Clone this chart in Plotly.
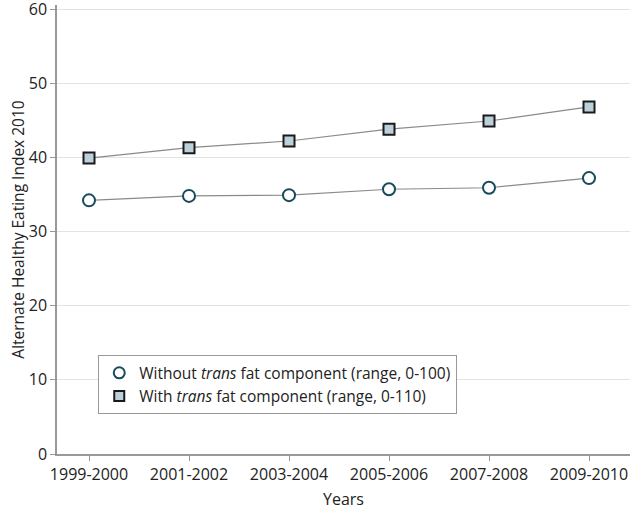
import plotly.graph_objects as go

years = ["1999-2000", "2001-2002", "2003-2004", "2005-2006", "2007-2008", "2009-2010"]
without_trans = [34.2, 34.8, 34.9, 35.7, 35.9, 37.2]
with_trans = [39.9, 41.3, 42.2, 43.8, 44.9, 46.8]
y_ticks = [0, 10, 20, 30, 40, 50, 60]

font = "Open Sans"
fig = go.Figure()
# lines
fig.add_trace(go.Scatter(x=years, y=with_trans, mode="lines+markers", showlegend=False,
                         line=dict(color="#8a8a8a", width=1.2),
                         marker=dict(symbol="square", size=11, color="#bcd0dc",
                                     line=dict(color="#1a1a1a", width=2))))
fig.add_trace(go.Scatter(x=years, y=without_trans, mode="lines+markers", showlegend=False,
                         line=dict(color="#8a8a8a", width=1.2),
                         marker=dict(symbol="circle", size=12, color="white",
                                     line=dict(color="#174a5a", width=2))))
# legend entries
fig.add_trace(go.Scatter(x=[None], y=[None], mode="markers",
                         name="Without <i>trans</i> fat component (range, 0-100)",
                         marker=dict(symbol="circle", size=11, color="white",
                                     line=dict(color="#174a5a", width=2))))
fig.add_trace(go.Scatter(x=[None], y=[None], mode="markers",
                         name="With <i>trans</i> fat component (range, 0-110)",
                         marker=dict(symbol="square", size=10, color="#bcd0dc",
                                     line=dict(color="#1a1a1a", width=2))))

fig.update_layout(
    width=630, height=512,
    margin=dict(l=57, r=0, t=5, b=58),
    paper_bgcolor="white", plot_bgcolor="white",
    font=dict(family=font, size=15, color="#222"),
    legend=dict(x=0.072, y=0.22, xanchor="left", yanchor="top",
                bordercolor="#999", borderwidth=1, bgcolor="white",
                font=dict(size=15.5, color="#222"), tracegroupgap=0,
                itemwidth=30),
    xaxis=dict(type="category", range=[-0.32, 5.41], automargin=False,
               showline=True, linecolor="#999", linewidth=1.5,
               ticks="outside", ticklen=5, tickcolor="#999",
               showgrid=False, title=dict(text="Years", standoff=10, font=dict(size=16)),
               tickfont=dict(size=16)),
    yaxis=dict(range=[0, 60.54], tickvals=y_ticks, automargin=False,
               ticklabeloverflow="allow",
               showline=True, linecolor="#999", linewidth=1.5,
               ticks="outside", ticklen=5, tickcolor="#999",
               showgrid=True, gridcolor="#e3e3e3", gridwidth=1, zeroline=False,
               title=dict(text="Alternate Healthy Eating Index 2010", standoff=0, font=dict(size=15.5)),
               tickfont=dict(size=16)),
)
fig.write_html("out.html", config={"displayModeBar": False},
               post_script="document.body.style.margin='0';document.body.style.overflow='hidden';")
